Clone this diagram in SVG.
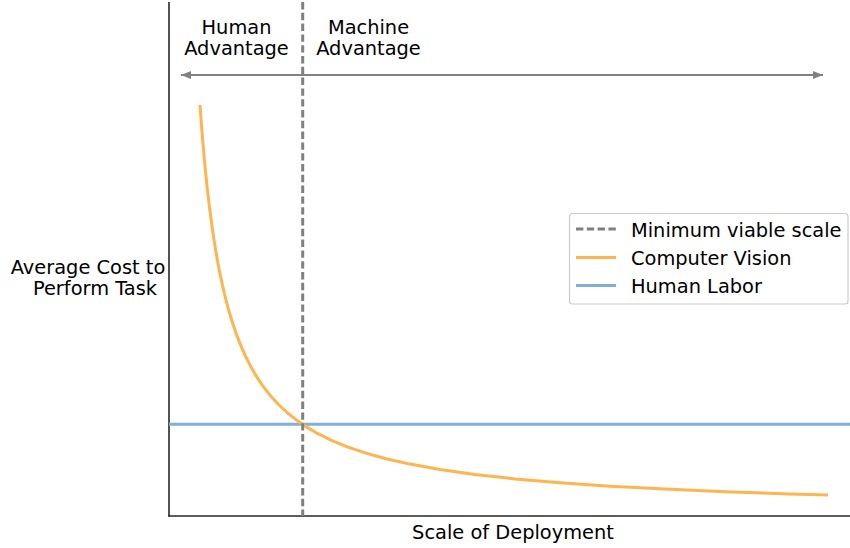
<svg xmlns="http://www.w3.org/2000/svg" width="850" height="548" viewBox="0 0 850 548">
  <style>
    text { font-family: "DejaVu Sans", "Liberation Sans", sans-serif; font-size: 19.4px; fill: #000; }
    .spine { stroke: #262626; stroke-width: 1.6; fill: none; }
    .dash { stroke: #808080; stroke-width: 3; stroke-dasharray: 7.4 3.4; fill: none; }
    .cv { stroke: #ffb44f; stroke-width: 3; fill: none; stroke-linejoin: round; stroke-linecap: butt; }
    .hl { stroke: #7eb0d9; stroke-width: 3; fill: none; }
    .arr { stroke: #808080; stroke-width: 2; fill: none; }
  </style>
  <defs>
    <marker id="ah" viewBox="0 0 10 8" refX="10" refY="4" markerWidth="10" markerHeight="8" markerUnits="userSpaceOnUse" orient="auto-start-reverse">
      <path d="M0,0 L10,4 L0,8 Z" fill="#808080"/>
    </marker>
  </defs>
  <rect width="850" height="548" fill="#fff"/>

  <g id="axes">
    <line class="spine" x1="169" y1="2" x2="169" y2="516.5"/>
    <line class="spine" x1="168.2" y1="516" x2="850" y2="516"/>
  </g>

  <g id="connectors">
    <line class="arr" x1="181" y1="75" x2="823" y2="75" marker-start="url(#ah)" marker-end="url(#ah)"/>
    <line id="human-labor" class="hl" x1="169" y1="424.3" x2="850" y2="424.3"/>
    <path id="computer-vision" class="cv" d="M200,105 L201,118.9 L202,131.9 L203,144 L204,155.4 L205,166.2 L206,176.3 L207,185.8 L208,194.8 L209,203.3 L210,211.4 L212,226.3 L214,239.9 L216,252.2 L218,263.4 L220,273.7 L223,287.7 L226,300.1 L229,311.2 L232,321.2 L236,333.1 L240,343.6 L245,355.2 L250,365.2 L256,375.7 L262,384.8 L270,395.2 L278,404 L287,412.5 L296,419.7 L306,426.6 L318,433.7 L332,440.6 L348,447.1 L366,453.1 L386,458.7 L410,464.1 L440,469.5 L475,474.5 L515,478.9 L560,482.8 L610,486.2 L665,489.1 L725,491.7 L790,493.9 L828,494.9"/>
    <line id="min-viable-scale" class="dash" x1="302.7" y1="2" x2="302.7" y2="516"/>
  </g>

  <g id="human-advantage">
    <text x="236.5" y="34" text-anchor="middle">Human</text>
    <text x="236.5" y="55" text-anchor="middle">Advantage</text>
  </g>
  <g id="machine-advantage">
    <text x="368.5" y="34" text-anchor="middle">Machine</text>
    <text x="368.5" y="55" text-anchor="middle">Advantage</text>
  </g>

  <g id="y-label">
    <text x="88" y="274" text-anchor="middle">Average Cost to</text>
    <text x="95" y="295" text-anchor="middle">Perform Task</text>
  </g>
  <g id="x-label">
    <text x="513" y="539" text-anchor="middle">Scale of Deployment</text>
  </g>

  <g id="legend">
    <rect x="569.5" y="213.5" width="278.5" height="90.5" rx="3" ry="3" fill="#fff" fill-opacity="0.8" stroke="#cccccc" stroke-width="1.2"/>
    <line class="dash" x1="576" y1="229" x2="616" y2="229"/>
    <text x="631" y="237">Minimum viable scale</text>
    <line class="cv" x1="576" y1="257.5" x2="616" y2="257.5"/>
    <text x="631" y="265">Computer Vision</text>
    <line class="hl" x1="576" y1="285.5" x2="616" y2="285.5"/>
    <text x="631" y="293">Human Labor</text>
  </g>
</svg>
